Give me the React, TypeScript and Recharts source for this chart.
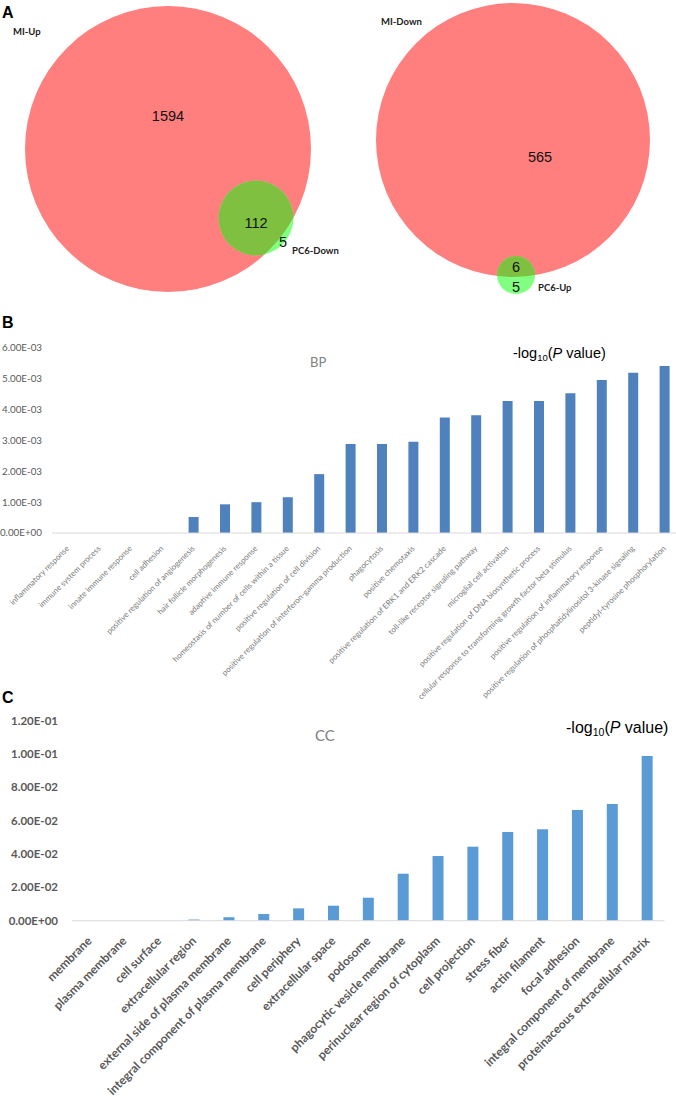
import React from "react";
import { BarChart, Bar, XAxis, YAxis, ScatterChart, Scatter, ZAxis } from "recharts";

// Venn diagrams (panel A): circle centres in the 676x300 panel frame, size from set totals
const leftVenn = [
  { name: "MI-Up", x: 168, y: 149, total: 1706 },
  { name: "PC6-Down", x: 256, y: 218, total: 117 },
];
const rightVenn = [
  { name: "MI-Down", x: 513, y: 140, total: 571 },
  { name: "PC6-Up", x: 516, y: 275, total: 11 },
];
const regionCounts = [
  { x: 168, y: 116, count: "1594" },
  { x: 256, y: 223, count: "112" },
  { x: 283, y: 242, count: "5" },
  { x: 540, y: 157, count: "565" },
  { x: 516, y: 267, count: "6" },
  { x: 516, y: 287, count: "5" },
];
const setNames = [
  { x: 13, y: 32, name: "MI-Up" },
  { x: 292, y: 251, name: "PC6-Down" },
  { x: 381, y: 22, name: "MI-Down" },
  { x: 538, y: 288, name: "PC6-Up" },
];

// panel B - biological process
const bpTerms = [
  "inflammatory response",
  "immune system process",
  "innate immune response",
  "cell adhesion",
  "positive regulation of angiogenesis",
  "hair follicle morphogenesis",
  "adaptive immune response",
  "homeostasis of number of cells within a tissue",
  "positive regulation of cell division",
  "positive regulation of interferon-gamma production",
  "phagocytosis",
  "positive chemotaxis",
  "positive regulation of ERK1 and ERK2 cascade",
  "toll-like receptor signaling pathway",
  "microglial cell activation",
  "positive regulation of DNA biosynthetic process",
  "cellular response to transforming growth factor beta stimulus",
  "positive regulation of inflammatory response",
  "positive regulation of phosphatidylinositol 3-kinase signaling",
  "peptidyl-tyrosine phosphorylation",
];
const bpValues = [
  0, 0, 0, 0, 0.00052, 0.00093, 0.001, 0.00116, 0.00191, 0.00289, 0.00289, 0.00296,
  0.00375, 0.00382, 0.00428, 0.00428, 0.00453, 0.00496, 0.0052, 0.00542,
];
const bpTicks = [0, 0.001, 0.002, 0.003, 0.004, 0.005, 0.006];

// panel C - cellular component
const ccTerms = [
  "membrane",
  "plasma membrane",
  "cell surface",
  "extracellular region",
  "external side of plasma membrane",
  "integral component of plasma membrane",
  "cell periphery",
  "extracellular space",
  "podosome",
  "phagocytic vesicle membrane",
  "perinuclear region of cytoplasm",
  "cell projection",
  "stress fiber",
  "actin filament",
  "focal adhesion",
  "integral component of membrane",
  "proteinaceous extracellular matrix",
];
const ccValues = [
  0, 0, 0, 0.0007, 0.0021, 0.004, 0.0074, 0.009, 0.0138, 0.0282, 0.0388, 0.0444, 0.0532,
  0.0548, 0.0664, 0.07, 0.0988,
];
const ccTicks = [0, 0.02, 0.04, 0.06, 0.08, 0.1, 0.12];

const bpData = bpTerms.map((term, i) => ({ term, value: bpValues[i] }));
const ccData = ccTerms.map((term, i) => ({ term, value: ccValues[i] }));

const ARIAL = "'Liberation Sans', Arial, sans-serif";
const CALIBRI = "Lato, 'Open Sans', sans-serif";

function sci(v: number) {
  if (v === 0) return "0.00E+00";
  const [m, e] = v.toExponential(2).split("e");
  const n = parseInt(e, 10);
  return `${m}E${n < 0 ? "-" : "+"}${String(Math.abs(n)).padStart(2, "0")}`;
}

// big set red, small set light green with the shared part darker
const vennShape = (id: string, bigName: string) => (props: any) => {
  const { cx, cy, payload } = props;
  const r = props.width ? props.width / 2 : Math.sqrt(props.size / Math.PI);
  if (payload.name === bigName) {
    return (
      <g>
        <defs>
          <clipPath id={`clip-${id}`}>
            <circle cx={cx} cy={cy} r={r} />
          </clipPath>
        </defs>
        <circle cx={cx} cy={cy} r={r} fill="#ff7f7f" />
      </g>
    );
  }
  return (
    <g>
      <circle cx={cx} cy={cy} r={r} fill="#80ff80" />
      <circle cx={cx} cy={cy} r={r} fill="#80c040" clipPath={`url(#clip-${id})`} />
    </g>
  );
};

const countShape = (props: any) => (
  <text x={props.cx} y={props.cy} dy="0.36em" textAnchor="middle" fontSize={14.5} fontFamily={ARIAL} fill="#111">
    {props.payload.count}
  </text>
);

const nameShape = (props: any) => (
  <text x={props.cx} y={props.cy} dy="0.36em" textAnchor="start" fontSize={9.5} fontWeight="bold" fontFamily={CALIBRI} fill="#222">
    {props.payload.name}
  </text>
);

const slantTick = (fontSize: number, bold: boolean, fill: string, dx: number) => (props: any) => {
  const { x, y, payload } = props;
  return (
    <g transform={`translate(${x + dx},${y})`}>
      <text
        textAnchor="end"
        transform="rotate(-45)"
        fontSize={fontSize}
        fontWeight={bold ? "bold" : "normal"}
        fontFamily={CALIBRI}
        fill={fill}
      >
        {payload.value}
      </text>
    </g>
  );
};

export default function App() {
  return (
    <div
      style={{
        position: "absolute",
        left: 0,
        top: 0,
        width: 676,
        height: 1110,
        overflow: "hidden",
        background: "#fff",
        fontFamily: CALIBRI,
      }}
    >
      {/* A */}
      <div style={{ position: "absolute", left: 0, top: 0 }}>
        <ScatterChart width={676} height={300} margin={{ top: 0, right: 0, bottom: 0, left: 0 }}>
          <XAxis type="number" dataKey="x" domain={[0, 676]} hide />
          <YAxis type="number" dataKey="y" domain={[0, 300]} reversed hide />
          <ZAxis zAxisId="L" type="number" dataKey="total" domain={[0, 1706]} range={[0, Math.PI * 143 * 143]} />
          <ZAxis zAxisId="R" type="number" dataKey="total" domain={[0, 571]} range={[0, Math.PI * 137 * 137]} />
          <ZAxis zAxisId={0} range={[1, 1]} />
          <Scatter data={leftVenn} zAxisId="L" shape={vennShape("left", "MI-Up")} isAnimationActive={false} />
          <Scatter data={rightVenn} zAxisId="R" shape={vennShape("right", "MI-Down")} isAnimationActive={false} />
          <Scatter data={regionCounts} shape={countShape} isAnimationActive={false} />
          <Scatter data={setNames} shape={nameShape} isAnimationActive={false} />
        </ScatterChart>
      </div>

      {/* B */}
      <div style={{ position: "absolute", left: 0, top: 300 }}>
        <BarChart width={682} height={430} data={bpData} margin={{ top: 48, right: 2, bottom: 0, left: 0 }}>
          <XAxis
            dataKey="term"
            interval={0}
            height={197}
            tickLine={false}
            tickSize={0}
            tickMargin={16}
            axisLine={{ stroke: "#d9d9d9" }}
            tick={slantTick(8, false, "#7a7a7a", 2)}
          />
          <YAxis
            width={52}
            domain={[0, 0.006]}
            ticks={bpTicks}
            tickFormatter={sci}
            axisLine={false}
            tickLine={false}
            tickSize={0}
            tickMargin={10}
            tick={{ fontSize: 9.8, fill: "#595959", fontFamily: CALIBRI }}
          />
          <Bar dataKey="value" fill="#4f81bd" barSize={10} isAnimationActive={false} />
        </BarChart>
      </div>

      {/* C */}
      <div style={{ position: "absolute", left: 0, top: 690 }}>
        <BarChart width={676} height={420} data={ccData} margin={{ top: 30.7, right: 11.5, bottom: 0, left: 0 }}>
          <XAxis
            dataKey="term"
            interval={0}
            height={189.3}
            tickLine={false}
            tickSize={0}
            tickMargin={21}
            axisLine={{ stroke: "#d9d9d9" }}
            tick={slantTick(12, true, "#595959", 3)}
          />
          <YAxis
            width={72}
            domain={[0, 0.12]}
            ticks={ccTicks}
            tickFormatter={sci}
            axisLine={false}
            tickLine={false}
            tickSize={0}
            tickMargin={14}
            tick={{ fontSize: 11.5, fill: "#595959", fontFamily: CALIBRI, fontWeight: "bold" }}
          />
          <Bar dataKey="value" fill="#5b9bd5" barSize={11} isAnimationActive={false} />
        </BarChart>
      </div>

      {/* panel letters and titles */}
      <svg width={676} height={1110} style={{ position: "absolute", left: 0, top: 0, pointerEvents: "none" }}>
        <text x={2} y={18} fontSize={16} fontWeight="bold" fontFamily={ARIAL}>A</text>
        <text x={2} y={328} fontSize={16} fontWeight="bold" fontFamily={ARIAL}>B</text>
        <text x={2} y={703} fontSize={16} fontWeight="bold" fontFamily={ARIAL}>C</text>
        <text x={310} y={367} fontSize={13} fill="#808080" fontFamily={CALIBRI}>BP</text>
        <text x={315} y={741} fontSize={15} fill="#808080" fontFamily={CALIBRI}>CC</text>
        <text x={513} y={358} fontSize={14.5} fontFamily={ARIAL} fill="#000">
          -log<tspan fontSize={9.5} dy={3}>10</tspan>
          <tspan dy={-3}>(</tspan>
          <tspan fontStyle="italic">P</tspan>
          {" value)"}
        </text>
        <text x={566} y={733} fontSize={16} fontFamily={ARIAL} fill="#000">
          -log<tspan fontSize={10.5} dy={3}>10</tspan>
          <tspan dy={-3}>(</tspan>
          <tspan fontStyle="italic">P</tspan>
          {" value)"}
        </text>
      </svg>
    </div>
  );
}
